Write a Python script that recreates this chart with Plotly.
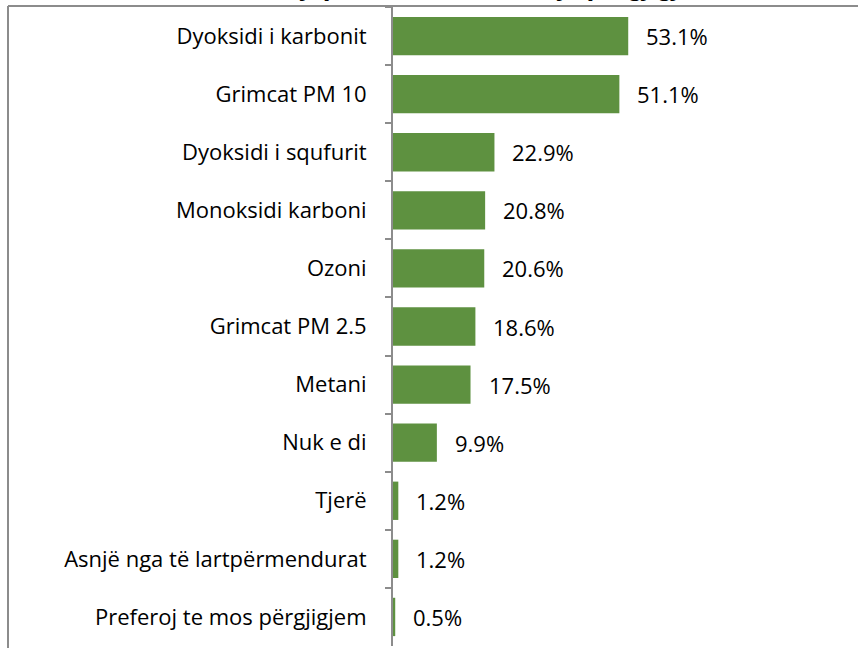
import plotly.graph_objects as go

categories = ["Dyoksidi i karbonit", "Grimcat PM 10", "Dyoksidi i squfurit", "Monoksidi karboni",
              "Ozoni", "Grimcat PM 2.5", "Metani", "Nuk e di", "Tjerë",
              "Asnjë nga të lartpërmendurat", "Preferoj te mos përgjigjem"]
values = [53.1, 51.1, 22.9, 20.8, 20.6, 18.6, 17.5, 9.9, 1.2, 1.2, 0.5]
labels = [f"{v:.1f}%" for v in values]
title_text = "(Mund të jepen më shumë se një përgjigje)"

W, H = 858, 648
L, R, T, B = 393, 0, 7, 2
pw = W - L - R
ph = H - T - B
FONT = "Open Sans, Lato, sans-serif"

fig = go.Figure()
fig.add_trace(go.Bar(
    x=values, y=categories, orientation="h",
    marker=dict(color="#5E9140", line=dict(width=0)),
    width=0.66, hoverinfo="skip",
))
for v, c, t in zip(values, categories, labels):
    fig.add_annotation(x=v, y=c, text=t, showarrow=False, xanchor="left",
                       xshift=16, yshift=0, font=dict(size=22, color="#000000", family=FONT))

# clipped title at the very top
fig.add_annotation(xref="paper", yref="paper", x=(185 - L) / pw, y=1 + 3 / ph,
                   xanchor="left", yanchor="bottom", text=f"<b><i>{title_text}</i></b>",
                   showarrow=False, borderpad=0, font=dict(size=26, color="#000000", family=FONT))

# chart border (left + top)
x_border = (8 - L) / pw
fig.add_shape(type="line", xref="paper", yref="paper", x0=x_border, x1=x_border,
              y0=-1, y1=1 + 1 / ph, line=dict(color="#8c8c8c", width=2))
fig.add_shape(type="line", xref="paper", yref="paper", x0=x_border, x1=1.1,
              y0=1 + 1 / ph, y1=1 + 1 / ph, line=dict(color="#8c8c8c", width=2))

fig.update_xaxes(range=[0, pw / 4.43], visible=False)
fig.update_yaxes(autorange="reversed", showline=True, linecolor="#8c8c8c", linewidth=2,
                 ticks="outside", tickson="boundaries", ticklen=6, tickcolor="#8c8c8c",
                 tickwidth=2, tickfont=dict(size=22, color="#000000", family=FONT),
                 ticklabelstandoff=20, showgrid=False)
fig.update_layout(width=W, height=H, margin=dict(l=L, r=R, t=T, b=B),
                  plot_bgcolor="white", paper_bgcolor="white", showlegend=False,
                  font=dict(family=FONT), bargap=0.34)
fig.write_html("out.html", config={"displayModeBar": False},
               post_script="document.body.style.margin='0px';")
